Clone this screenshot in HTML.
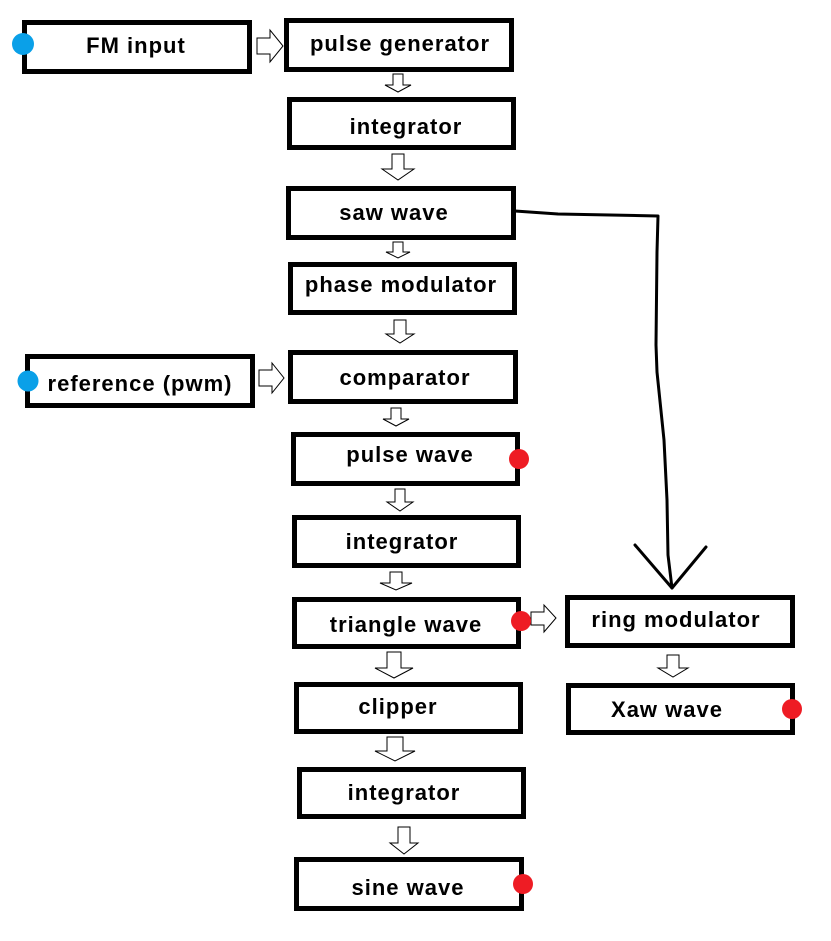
<!DOCTYPE html>
<html><head><meta charset="utf-8"><style>
html,body{margin:0;padding:0;background:#fff;}
svg{display:block;}
text{font-family:"Liberation Sans",Arial,sans-serif;font-weight:bold;font-size:22px;letter-spacing:1px;fill:#000;text-anchor:middle;}
</style></head><body>
<svg width="831" height="941" viewBox="0 0 831 941" xmlns="http://www.w3.org/2000/svg">
<g fill="#fff" stroke="#000" stroke-width="5">
<rect x="24.5" y="22.5" width="225" height="49"/>
<rect x="286.5" y="20.5" width="225" height="49"/>
<rect x="289.5" y="99.5" width="224" height="48"/>
<rect x="288.5" y="188.5" width="225" height="49"/>
<rect x="290.5" y="264.5" width="224" height="48"/>
<rect x="290.5" y="352.5" width="225" height="49"/>
<rect x="27.5" y="356.5" width="225" height="49"/>
<rect x="293.5" y="434.5" width="224" height="49"/>
<rect x="294.5" y="517.5" width="224" height="48"/>
<rect x="294.5" y="599.5" width="224" height="47"/>
<rect x="296.5" y="684.5" width="224" height="47"/>
<rect x="299.5" y="769.5" width="224" height="47"/>
<rect x="296.5" y="859.5" width="225" height="49"/>
<rect x="567.5" y="597.5" width="225" height="48"/>
<rect x="568.5" y="685.5" width="224" height="47"/>
</g>
<g fill="#fff" stroke="#000" stroke-width="1">
<path d="M393 74 H403 V85 H411 L398 92 L385 85 H393 Z"/>
<path d="M392 154 H404 V169 H414 L398 180 L382 169 H392 Z"/>
<path d="M393 242 H403 V252 H410 L398 258 L386 252 H393 Z"/>
<path d="M394 320 H406 V334 H414 L400 343 L386 334 H394 Z"/>
<path d="M391 408 H401 V419 H409 L396 426 L383 419 H391 Z"/>
<path d="M395 489 H405 V502 H413 L400 511 L387 502 H395 Z"/>
<path d="M390 572 H402 V583 H412 L396 590 L380 583 H390 Z"/>
<path d="M387 652 H401 V668 H413 L394 678 L375 668 H387 Z"/>
<path d="M387 737 H403 V751 H415 L395 761 L375 751 H387 Z"/>
<path d="M398 827 H410 V843 H418 L404 854 L390 843 H398 Z"/>
<path d="M667 655 H679 V668 H688 L673 677 L658 668 H667 Z"/>
<path d="M257 38 H270 V30 L283 46 L270 62 V54 H257 Z"/>
<path d="M259 370 H272 V363 L284 378 L272 393 V386 H259 Z"/>
<path d="M531 612 H544 V605 L556 618 L544 632 V625 H531 Z"/>
</g>
<g fill="none" stroke="#000" stroke-width="3" stroke-linejoin="round" stroke-linecap="round">
<path d="M515 211 L558 214 L658 216 L657 252 L656 345 L657 372 L664 440 L667 500 L668 555 L672 588"/>
<path d="M635 545 L672 588 L706 547"/>
</g>
<g fill="#0aa0e8">
<circle cx="23" cy="44" r="11"/>
<circle cx="28" cy="381" r="10.5"/>
</g>
<g fill="#ee1c24">
<circle cx="519" cy="459" r="10"/>
<circle cx="521" cy="621" r="10"/>
<circle cx="792" cy="709" r="10"/>
<circle cx="523" cy="884" r="10"/>
</g>
<text x="136" y="53">FM input</text>
<text x="400" y="51">pulse generator</text>
<text x="406" y="134">integrator</text>
<text x="394" y="220">saw wave</text>
<text x="401" y="292">phase modulator</text>
<text x="405" y="385">comparator</text>
<text x="140" y="391">reference (pwm)</text>
<text x="410" y="462">pulse wave</text>
<text x="402" y="549">integrator</text>
<text x="406" y="632">triangle wave</text>
<text x="676" y="627">ring modulator</text>
<text x="398" y="714">clipper</text>
<text x="667" y="717">Xaw wave</text>
<text x="404" y="800">integrator</text>
<text x="408" y="895">sine wave</text>
</svg>
</body></html>
